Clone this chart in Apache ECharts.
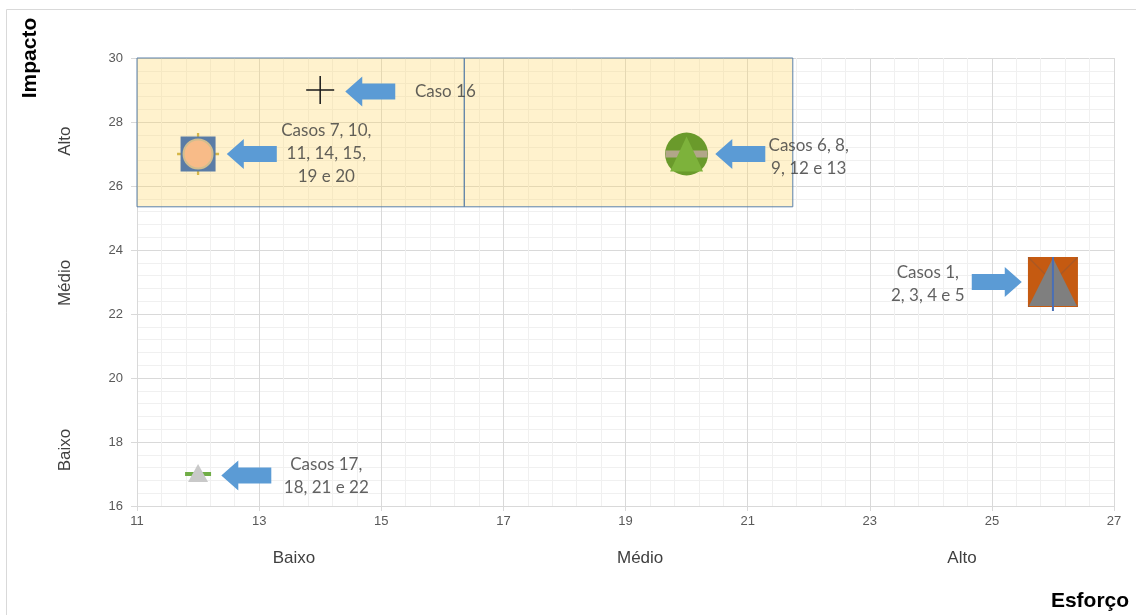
<!DOCTYPE html>
<html>
<head>
<meta charset="utf-8">
<script src="https://cdn.jsdelivr.net/npm/echarts@6/dist/echarts.min.js"></script>
<style>
  html, body { margin: 0; padding: 0; background: #ffffff; }
  #chart { width: 1136px; height: 615px; }
</style>
</head>
<body>
<div id="chart"></div>
<script>
// Effort (x) and impact (y) of each group of cases
const groupNames = [
  'Caso 16',
  'Casos 7, 10,\n11, 14, 15,\n19 e 20',
  'Casos 6, 8,\n9, 12 e 13',
  'Casos 1,\n2, 3, 4 e 5',
  'Casos 17,\n18, 21 e 22'
];
const groupEffort = [14, 12, 20, 26, 12];
const groupImpact = [29, 27, 27, 23, 17];

// Where each callout text and arrow sits, in axis units
const labelEffort = [16.05, 14.1, 22.0, 23.95, 14.1];
const labelImpact = [28.95, 27.0, 26.9, 22.95, 16.95];
const arrowEffort = [14.82, 12.88, 20.88, 25.08, 12.79];
const arrowImpact = [28.95, 27.0, 27.0, 23.0, 16.95];
const arrowPointsRight = [false, false, false, true, false];

// Qualitative bands along each axis
const effortBands = ['Baixo', 'Médio', 'Alto'];
const impactBands = ['Baixo', 'Médio', 'Alto'];

// Highlighted zone: high impact with low-to-medium effort
const zoneEffort = [11, 16.36, 21.74];
const zoneImpact = [25.35, 30];

// Axis ranges
const effortRange = [11, 27];
const impactRange = [16, 30];
const tickStep = 2;

const FONT = 'Liberation Sans, Arial, sans-serif';
const CALLOUT_FONT = 'Lato, "Open Sans", sans-serif';

const PLUS = 'path://M47.3,0 L52.7,0 L52.7,47.3 L100,47.3 L100,52.7 L52.7,52.7 L52.7,100 L47.3,100 L47.3,52.7 L0,52.7 L0,47.3 L47.3,47.3 Z';
const CROSS_DIAG = 'path://M0,0 L2,0 L100,98 L100,100 L98,100 L0,2 Z M98,0 L100,0 L100,2 L2,100 L0,100 L0,98 Z';
const ARROW_LEFT = 'path://M0,15 L17,0 L17,7 L50,7 L50,23 L17,23 L17,30 Z';

function at(i) { return [[groupEffort[i], groupImpact[i]]]; }

function layer(i, symbol, size, style, extra) {
  return Object.assign({
    type: 'scatter',
    data: at(i),
    symbol: symbol,
    symbolSize: size,
    itemStyle: Object.assign({ opacity: 1 }, typeof style === 'string' ? { color: style } : style),
    silent: true,
    z: 3
  }, extra || {});
}

const chart = echarts.init(document.getElementById('chart'), null, { renderer: 'canvas' });

const option = {
  animation: false,
  backgroundColor: '#ffffff',
  grid: { left: 137, right: 22, top: 58, bottom: 109, containLabel: false },
  xAxis: {
    type: 'value',
    min: effortRange[0], max: effortRange[1], interval: tickStep,
    axisLine: { show: false },
    axisTick: { show: true, length: 5, lineStyle: { color: '#d9d9d9' } },
    minorTick: { show: false, splitNumber: 5 },
    axisLabel: { color: '#595959', fontFamily: FONT, fontSize: 13, margin: 9 },
    splitLine: { show: true, lineStyle: { color: '#d9d9d9', width: 1 } },
    minorSplitLine: { show: true, lineStyle: { color: '#f0f0f0', width: 1 } }
  },
  yAxis: {
    type: 'value',
    min: impactRange[0], max: impactRange[1], interval: tickStep,
    axisLine: { show: false },
    axisTick: { show: true, length: 6, lineStyle: { color: '#d9d9d9' } },
    minorTick: { show: false, splitNumber: 5 },
    axisLabel: { color: '#595959', fontFamily: FONT, fontSize: 13, margin: 14 },
    splitLine: { show: true, lineStyle: { color: '#d9d9d9', width: 1 } },
    minorSplitLine: { show: true, lineStyle: { color: '#f0f0f0', width: 1 } }
  },
  series: [
    // highlighted zone
    {
      type: 'scatter', data: [], silent: true, z: 1,
      markArea: {
        silent: true,
        itemStyle: { color: 'rgba(255,217,102,0.33)', borderColor: '#5b80aa', borderWidth: 1 },
        data: [
          [{ xAxis: zoneEffort[0], yAxis: zoneImpact[1] }, { xAxis: zoneEffort[1], yAxis: zoneImpact[0] }],
          [{ xAxis: zoneEffort[1], yAxis: zoneImpact[1] }, { xAxis: zoneEffort[2], yAxis: zoneImpact[0] }]
        ]
      }
    },
    // Caso 16
    layer(0, PLUS, 28, '#1a1a1a'),
    // Casos 7, 10, 11, 14, 15, 19, 20
    layer(1, PLUS, 42, '#d6b748'),
    layer(1, 'rect', 35, '#5a7ca6'),
    layer(1, 'circle', 29, { color: '#f8bb88', borderColor: '#d2bd8e', borderWidth: 2 }),
    // Casos 6, 8, 9, 12, 13
    layer(2, 'circle', 43, '#6a9a2b'),
    layer(2, 'rect', [42, 7], '#b2a689'),
    layer(2, 'triangle', [33, 35], '#7db23b', { symbolOffset: [0, 0] }),
    // Casos 1, 2, 3, 4, 5
    layer(3, 'rect', 50, '#c55a11'),
    layer(3, CROSS_DIAG, 50, 'rgba(120,85,70,0.35)'),
    layer(3, 'triangle', [48, 48], '#7f7f7f'),
    layer(3, 'rect', [2, 54], '#4a6fb5', { symbolOffset: [0, 2] }),
    // Casos 17, 18, 21, 22
    layer(4, 'rect', [26, 4], '#70ad47'),
    layer(4, 'triangle', [20, 18], '#c9c9c9', { symbolOffset: [0, -1] }),
    // callout arrows
    {
      type: 'scatter', silent: true, z: 4,
      symbol: ARROW_LEFT, symbolSize: [50, 30],
      itemStyle: { color: '#5b9bd5', opacity: 1 },
      data: arrowEffort.map((x, i) => ({
        value: [x, arrowImpact[i]],
        symbolRotate: arrowPointsRight[i] ? 180 : 0
      }))
    },
    // callout texts
    {
      type: 'scatter', silent: true, z: 5,
      symbolSize: 1, itemStyle: { color: 'rgba(0,0,0,0)' },
      label: {
        show: true, position: 'inside', formatter: '{b}',
        color: '#3a3a3a', fontFamily: CALLOUT_FONT, fontSize: 17, lineHeight: 23, align: 'center'
      },
      data: groupNames.map((n, i) => ({ name: n, value: [labelEffort[i], labelImpact[i]] }))
    }
  ]
};

chart.setOption(option);

// Band names under the x axis and beside the y axis, plus the axis titles and chart frame
const effortBandAt = [13.57, 19.24, 24.51];
const impactBandAt = [17.75, 22.97, 27.4];
const graphics = [
  { type: 'rect', shape: { x: 6.5, y: 9.5, width: 1200, height: 700 }, style: { fill: 'none', stroke: '#d9d9d9', lineWidth: 1 }, z: -10, silent: true },
  { type: 'text', x: 30, y: 58, rotation: Math.PI / 2, style: { text: 'Impacto', fill: '#000000', font: 'bold 21px ' + FONT, align: 'center', verticalAlign: 'middle' } },
  { type: 'text', x: 1090, y: 601, style: { text: 'Esforço', fill: '#000000', font: 'bold 21px ' + FONT, align: 'center', verticalAlign: 'middle' } }
];
effortBands.forEach((t, i) => {
  const px = chart.convertToPixel({ xAxisIndex: 0 }, effortBandAt[i]);
  graphics.push({ type: 'text', x: px, y: 558, style: { text: t, fill: '#404040', font: '17px ' + FONT, align: 'center', verticalAlign: 'middle' } });
});
impactBands.forEach((t, i) => {
  const py = chart.convertToPixel({ yAxisIndex: 0 }, impactBandAt[i]);
  graphics.push({ type: 'text', x: 65, y: py, rotation: Math.PI / 2, style: { text: t, fill: '#404040', font: '17px ' + FONT, align: 'center', verticalAlign: 'middle' } });
});
chart.setOption({ graphic: graphics });
</script>
</body>
</html>
